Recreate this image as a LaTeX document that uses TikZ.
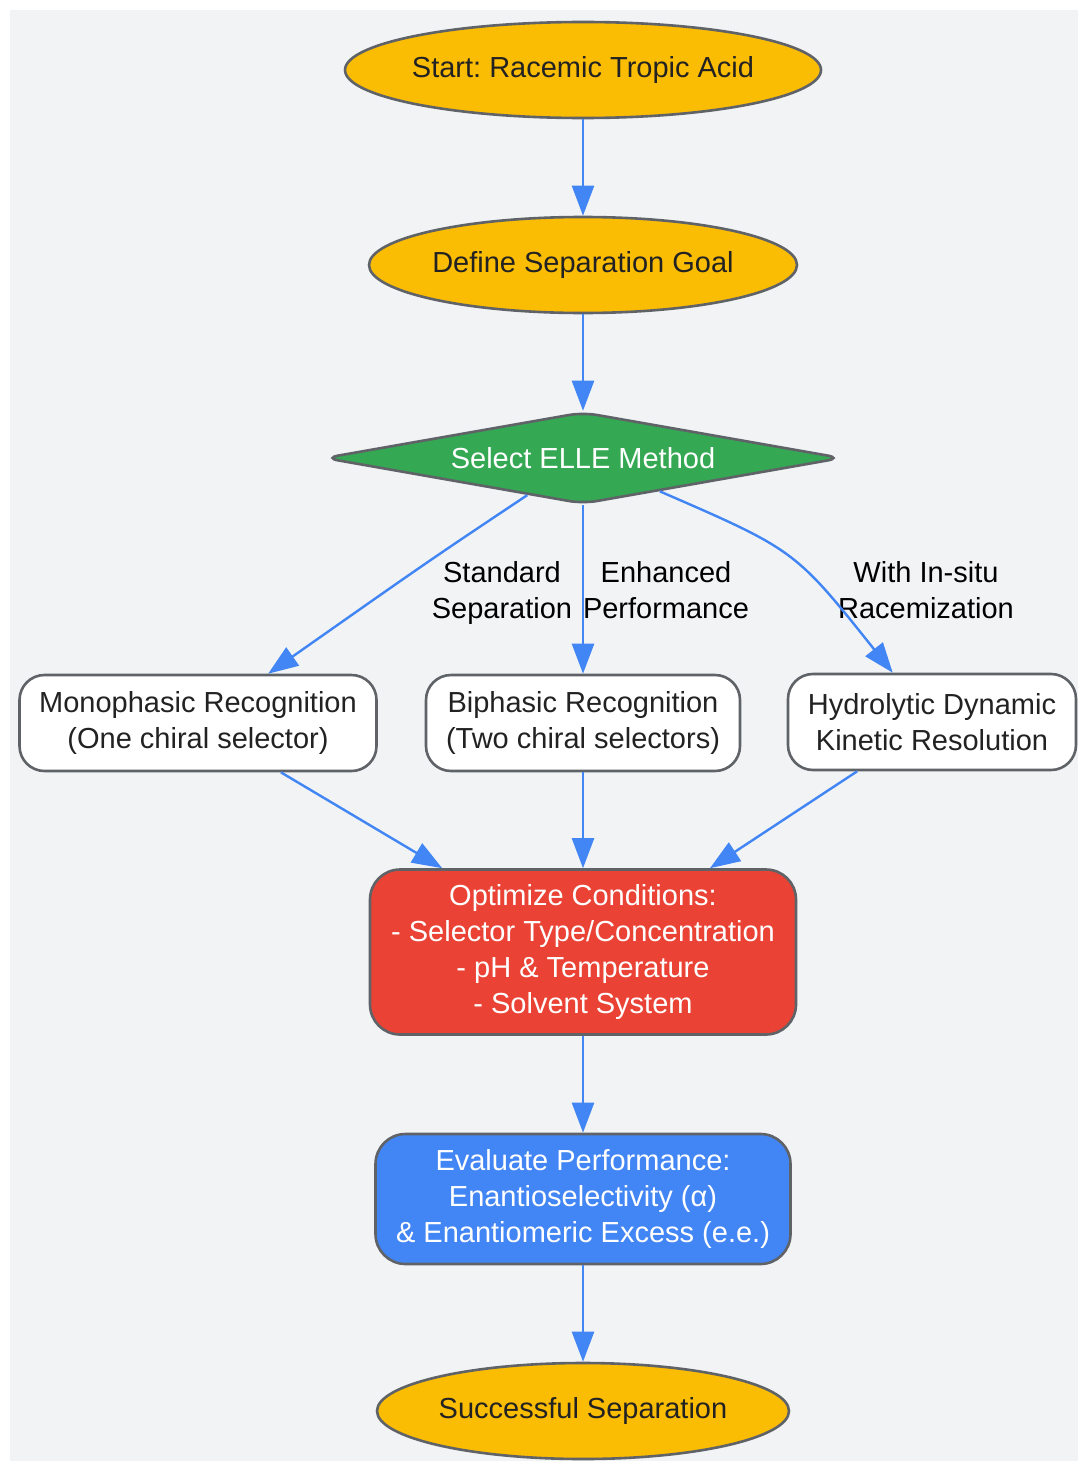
\documentclass[tikz,border=0pt]{standalone}
\usepackage{fontspec}
\setmainfont{Liberation Sans}
\usetikzlibrary{shapes.geometric,arrows.meta}
\definecolor{bgc}{HTML}{F1F3F4}
\definecolor{bordc}{HTML}{5F6368}
\definecolor{goldc}{HTML}{FBBC04}
\definecolor{greenc}{HTML}{34A853}
\definecolor{redc}{HTML}{EA4335}
\definecolor{bluec}{HTML}{4285F4}
\definecolor{txtc}{HTML}{222222}
\frenchspacing

\begin{document}
\begin{tikzpicture}[x=0.5pt,y=-0.5pt,
    every node/.style={font=\fontsize{14.5}{18}\selectfont, align=center},
    base/.style={draw=bordc, line width=1.3pt, text=txtc, inner sep=0pt},
    term/.style={base, ellipse, inner xsep=-3pt, fill=goldc, minimum width=#1, minimum height=48pt},
    box/.style={base, rectangle, rounded corners=12.5pt, fill=white, minimum width=#1, minimum height=48pt},
    edge/.style={draw=bluec, line width=1.2pt, -{Triangle[length=15pt,width=11pt]}},
    lbl/.style={text=black, inner sep=1pt}]
    \useasboundingbox (0,0) rectangle (1078,1461);
    \fill[bgc] (10,10) rectangle (1078,1461);
    % main column
    \node[term=238pt] (start) at (583,70) {Start: Racemic Tropic Acid};
    \node[term=214pt] (goal) at (583,265) {Define Separation Goal};
    \node[base, diamond, aspect=5.6, rounded corners=7pt, fill=greenc, text=white, minimum width=259pt, minimum height=46pt] (sel) at (583,458) {Select ELLE Method};
    % three methods
    \node[box=178.5pt] (mono) at (198,723) {Monophasic Recognition\\(One chiral selector)};
    \node[box=157pt] (bi) at (583,723) {Biphasic Recognition\\(Two chiral selectors)};
    \node[box=144pt] (hdkr) at (932,722) {Hydrolytic Dynamic\\Kinetic Resolution};
    \node[base, rounded corners=15pt, fill=redc, text=white, minimum width=213pt, minimum height=82.5pt] (opt) at (583,952) {Optimize Conditions:\\- Selector Type/Concentration\\- pH \& Temperature\\- Solvent System};
    \node[base, rounded corners=15pt, fill=bluec, text=white, minimum width=207.5pt, minimum height=65pt] (eval) at (583,1199) {Evaluate Performance:\\Enantioselectivity (α)\\\& Enantiomeric Excess (e.e.)};
    \node[term=206pt] (done) at (583,1411) {Successful Separation};
    % edge labels
    \node[lbl] (lstd) at (502,593) {Standard\\Separation};
    \node[lbl] (lenh) at (666,590) {Enhanced\\Performance};
    \node[lbl] (lrac) at (926,590) {With In-situ\\Racemization};
    % connectors
    \draw[edge] (start) -- (goal);
    \draw[edge] (goal) -- (sel);
    \draw[edge] (sel) .. controls (430,560) .. (mono);
    \draw[edge] (sel) -- (bi);
    \draw[edge] (sel) .. controls (795,550) .. (hdkr);
    \draw[edge] (mono) -- (opt);
    \draw[edge] (bi) -- (opt);
    \draw[edge] (hdkr) -- (opt);
    \draw[edge] (opt) -- (eval);
    \draw[edge] (eval) -- (done);
\end{tikzpicture}
\end{document}
